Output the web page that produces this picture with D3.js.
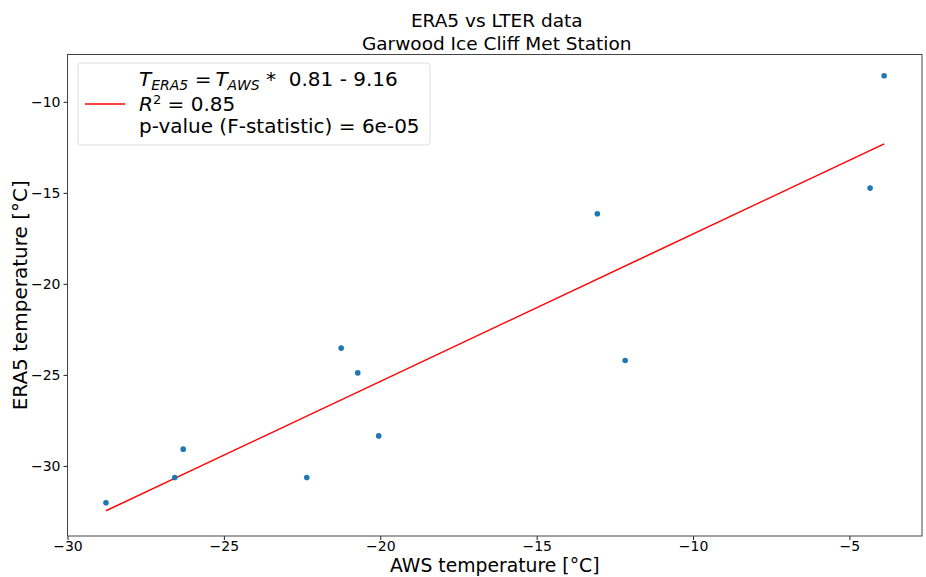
<!DOCTYPE html>
<html>
<head>
<meta charset="utf-8">
<script src="https://cdn.jsdelivr.net/npm/d3@7"></script>
<style>
  html, body { margin: 0; padding: 0; background: #fff; }
  svg { display: block; font-family: "DejaVu Sans", sans-serif; }
</style>
</head>
<body>
<svg id="chart" width="926" height="577"></svg>
<script>
// AWS vs ERA5 temperature pairs (°C)
const awsTemp  = [-28.77, -26.57, -26.30, -22.35, -21.25, -20.72, -20.05, -13.06, -12.17, -4.34, -3.89];
const era5Temp = [-32.02, -30.64, -29.08, -30.64, -23.53, -24.89, -28.35, -16.15, -24.21, -14.74, -8.57];

// Linear fit parameters
const slope = 0.81;
const intercept = -9.16;
const rSquared = 0.85;
const pValue = "6e-05";

// Axis limits and ticks
const xDomain = [-30.0, -2.68];
const yDomain = [-33.85, -7.40];
const xTicks = [-30, -25, -20, -15, -10, -5];
const yTicks = [-30, -25, -20, -15, -10];

const titleLines = ["ERA5 vs LTER data", "Garwood Ice Cliff Met Station"];
const xLabel = "AWS temperature [°C]";
const yLabel = "ERA5 temperature [°C]";

const svg = d3.select("#chart");
const W = 926, H = 577;
const margin = { left: 67.5, right: 4, top: 54.5, bottom: 41 };
const plotW = W - margin.left - margin.right;
const plotH = H - margin.top - margin.bottom;

const fitX = d3.extent(awsTemp);
const fitY = fitX.map(v => v * slope + intercept);

const x = d3.scaleLinear().domain(xDomain).range([margin.left, margin.left + plotW]);
const y = d3.scaleLinear().domain(yDomain).range([margin.top + plotH, margin.top]);

const minus = v => String(v).replace("-", "\u2212");

// axes
const xAxis = svg.append("g")
  .attr("transform", `translate(0,${margin.top + plotH})`)
  .call(d3.axisBottom(x).tickValues(xTicks).tickFormat(minus).tickSize(4).tickPadding(1.5));
const yAxis = svg.append("g")
  .attr("transform", `translate(${margin.left},0)`)
  .call(d3.axisLeft(y).tickValues(yTicks).tickFormat(minus).tickSize(4).tickPadding(3));
[xAxis, yAxis].forEach(g => {
  g.select(".domain").remove();
  g.selectAll(".tick line").attr("stroke", "#222").attr("stroke-width", 1);
  g.selectAll(".tick text").attr("fill", "#000").style("font-size", "14px")
    .style("font-family", "DejaVu Sans, sans-serif");
});

// frame
svg.append("rect")
  .attr("x", margin.left).attr("y", margin.top)
  .attr("width", plotW).attr("height", plotH)
  .attr("fill", "none").attr("stroke", "#444").attr("stroke-width", 1);

// regression line
svg.append("line")
  .attr("x1", x(fitX[0])).attr("y1", y(fitY[0]))
  .attr("x2", x(fitX[1])).attr("y2", y(fitY[1]))
  .attr("stroke", "#ff0000").attr("stroke-width", 1.5);

// points
svg.append("g").selectAll("circle")
  .data(awsTemp.map((a, i) => [a, era5Temp[i]]))
  .join("circle")
  .attr("cx", d => x(d[0])).attr("cy", d => y(d[1]))
  .attr("r", 2.8).attr("fill", "#1f77b4");

// titles
const cx = margin.left + plotW / 2;
svg.append("text").attr("x", cx + 2).attr("y", 27).attr("text-anchor", "middle")
  .style("font-size", "18.5px").text(titleLines[0]);
svg.append("text").attr("x", cx + 2).attr("y", 50).attr("text-anchor", "middle")
  .style("font-size", "18.5px").text(titleLines[1]);

// axis labels
svg.append("text").attr("x", cx).attr("y", 572.3).attr("text-anchor", "middle")
  .style("font-size", "18.8px").text(xLabel);
svg.append("text")
  .attr("transform", `translate(27,${margin.top + plotH / 2}) rotate(-90)`)
  .attr("text-anchor", "middle")
  .style("font-size", "20px").text(yLabel);

// legend
const leg = svg.append("g");
leg.append("rect")
  .attr("x", 78).attr("y", 63).attr("width", 352).attr("height", 82).attr("rx", 3)
  .attr("fill", "#fff").attr("fill-opacity", 0.8)
  .attr("stroke", "#ddd").attr("stroke-width", 1);
leg.append("line").attr("x1", 85).attr("x2", 125).attr("y1", 104).attr("y2", 104)
  .attr("stroke", "#ff0000").attr("stroke-width", 1.5);

const tx = 139;
const l1 = leg.append("text").attr("x", tx).attr("y", 86).style("font-size", "20px");
l1.append("tspan").style("font-style", "italic").text("T");
l1.append("tspan").style("font-style", "italic").style("font-size", "14px").attr("dy", 4).text("ERA5");
l1.append("tspan").attr("dy", -4).text(" =\u2009");
l1.append("tspan").style("font-style", "italic").text("T");
l1.append("tspan").style("font-style", "italic").style("font-size", "14px").attr("dy", 4).text("AWS");
l1.append("tspan").attr("dy", -4).text(" *");
l1.append("tspan").text(`\u00a0\u00a0${slope} - ${Math.abs(intercept)}`);

const l2 = leg.append("text").attr("x", tx).attr("y", 111).style("font-size", "20px");
l2.append("tspan").style("font-style", "italic").text("R");
l2.append("tspan").style("font-size", "13px").attr("dy", -7).text("2");
l2.append("tspan").attr("dy", 7).text(` = ${rSquared}`);

leg.append("text").attr("x", tx).attr("y", 133).style("font-size", "20px")
  .text(`p-value (F-statistic) = ${pValue}`);
</script>
</body>
</html>
